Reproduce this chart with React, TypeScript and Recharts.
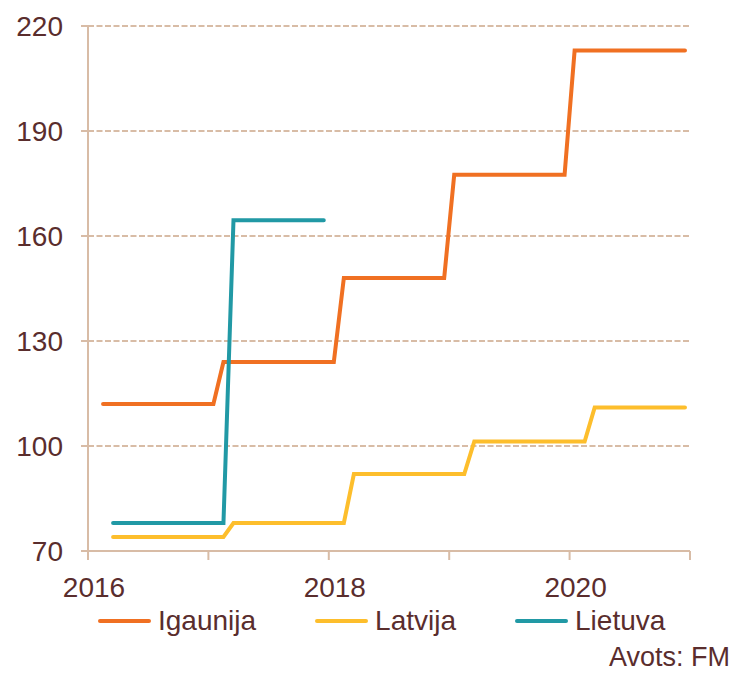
import { LineChart, Line, XAxis, YAxis, CartesianGrid, Legend } from 'recharts';

const startYear = 2016;
const xTicks = [0, 12, 24, 36, 48, 60];
const yTicks = [70, 100, 130, 160, 190, 220];

// vertices of the step lines (month, value)
const igaunijaMonths = ['2016-02', '2017-01', '2017-02', '2018-01', '2018-02', '2018-12', '2019-01', '2019-12', '2020-01', '2020-12'];
const igaunijaValues = [112, 112, 124, 124, 148, 148, 177.5, 177.5, 213, 213];

const latvijaMonths = ['2016-03', '2017-02', '2017-03', '2018-02', '2018-03', '2019-02', '2019-03', '2020-02', '2020-03', '2020-12'];
const latvijaValues = [74, 74, 78, 78, 92, 92, 101.3, 101.3, 111, 111];

const lietuvaMonths = ['2016-03', '2017-02', '2017-03', '2017-12'];
const lietuvaValues = [78, 78, 164.5, 164.5];

const seriesNames = ['Igaunija', 'Latvija', 'Lietuva'];
const seriesColors = ['#f07022', '#fdbe2c', '#2199a5'];
const source = 'Avots: FM';

const TEXT = '#5a2d2d';
const AXIS = '#d8bca6';
const FONT = '"Liberation Sans", Arial, sans-serif';

// month string -> position on the axis (middle of the month)
const monthPos = (m: string) => {
  const [y, mo] = m.split('-').map(Number);
  return (y - startYear) * 12 + (mo - 1) + 0.5;
};

const toPoints = (months: string[], values: number[]) =>
  months.map((m, i) => ({ x: monthPos(m), v: values[i] }));

const series = [
  toPoints(igaunijaMonths, igaunijaValues),
  toPoints(latvijaMonths, latvijaValues),
  toPoints(lietuvaMonths, lietuvaValues),
];

const XTick = ({ x, y, payload }: any) => {
  const v = payload.value;
  const label = v % 24 === 0 ? String(startYear + v / 12) : '';
  return (
    <text x={x + 6} y={y} dy="0.71em" textAnchor="middle" fill={TEXT} fontSize={28} fontFamily={FONT}>
      {label}
    </text>
  );
};

const LegendContent = () => (
  <div style={{ height: 75, fontFamily: FONT, color: TEXT, position: 'relative' }}>
    <div style={{ display: 'flex', alignItems: 'center', paddingLeft: 98, height: 46 }}>
      {seriesNames.map((name, i) => (
        <div key={name} style={{ display: 'flex', alignItems: 'center', marginRight: 59 }}>
          <div style={{ width: 53, height: 4, borderRadius: 2, background: seriesColors[i], marginRight: 7 }} />
          <span style={{ fontSize: 28, lineHeight: '32px' }}>{name}</span>
        </div>
      ))}
    </div>
    <div style={{ position: 'absolute', right: 5, top: 44, fontSize: 27, lineHeight: '30px' }}>{source}</div>
  </div>
);

export default function App() {
  return (
    <div style={{ position: 'absolute', left: 0, top: 0, width: 735, height: 673, background: '#fff' }}>
      <LineChart width={735} height={673} margin={{ top: 26, right: 45, left: 0, bottom: 0 }}>
        <CartesianGrid vertical={false} stroke={AXIS} strokeWidth={2} strokeDasharray="6 2.5" />
        <XAxis
          type="number"
          dataKey="x"
          domain={[0, 60]}
          ticks={xTicks}
          interval={0}
          height={47}
          tick={<XTick />}
          tickSize={9}
          tickMargin={17}
          axisLine={{ stroke: AXIS, strokeWidth: 2 }}
          tickLine={{ stroke: AXIS, strokeWidth: 2 }}
        />
        <YAxis
          type="number"
          domain={[70, 220]}
          ticks={yTicks}
          interval={0}
          width={88}
          tickSize={7}
          tickMargin={18}
          tick={{ fill: TEXT, fontSize: 28, fontFamily: FONT }}
          axisLine={{ stroke: AXIS, strokeWidth: 2 }}
          tickLine={{ stroke: AXIS, strokeWidth: 2 }}
        />
        <Legend
          verticalAlign="bottom"
          content={<LegendContent />}
          wrapperStyle={{ left: 0, bottom: 0, width: 735 }}
        />
        {series.map((data, i) => (
          <Line
            key={seriesNames[i]}
            data={data}
            dataKey="v"
            name={seriesNames[i]}
            type="linear"
            stroke={seriesColors[i]}
            strokeWidth={4}
            strokeLinecap="round"
            dot={false}
            activeDot={false}
            isAnimationActive={false}
          />
        ))}
      </LineChart>
    </div>
  );
}
